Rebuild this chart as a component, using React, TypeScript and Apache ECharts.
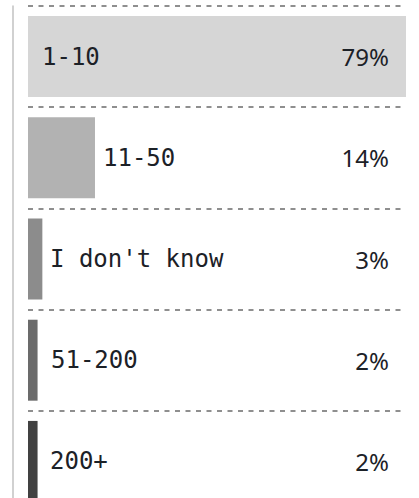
import React, { useEffect, useRef } from "react";
import * as echarts from "echarts";

const categories = ["1-10", "11-50", "I don't know", "51-200", "200+"];
const values = [79, 14, 3, 2, 2];
const barColors = ["#d6d6d6", "#b2b2b2", "#8c8c8c", "#6b6b6b", "#414141"];
// label placement per category: [position, distance]
const labelPlacement: [string, number][] = [
  ["insideLeft", 14],
  ["right", 8],
  ["insideLeft", 22],
  ["insideLeft", 23],
  ["insideLeft", 22],
];

export default function App() {
  const ref = useRef<HTMLDivElement>(null);
  useEffect(() => {
    if (!ref.current) return;
    const chart = echarts.init(ref.current, null, { renderer: "svg" });
    const maxVal = Math.max(...values);
    chart.setOption({
      animation: false,
      grid: { left: 28, right: 13, top: 6, height: 506 },
      xAxis: {
        type: "value",
        min: 0,
        max: maxVal,
        show: false,
      },
      yAxis: {
        type: "category",
        data: categories,
        inverse: true,
        offset: 15,
        axisLine: {
          show: true,
          onZero: false,
          lineStyle: { color: "#c2c2c2", width: 1.5 },
        },
        axisTick: { show: false },
        axisLabel: { show: false },
        splitLine: {
          show: true,
          lineStyle: { color: "#8f8f8f", type: [5, 5.5], width: 1.8 },
        },
      },
      series: [
        {
          type: "bar",
          silent: true,
          barCategoryGap: "20%",
          data: values.map((v, i) => ({
            value: v,
            itemStyle: { color: barColors[i] },
            label: {
              show: true,
              position: labelPlacement[i][0],
              distance: labelPlacement[i][1],
              formatter: categories[i],
              fontFamily: "DejaVu Sans Mono",
              fontSize: 24,
              color: "#1c2127",
            },
          })),
        },
        {
          type: "bar",
          silent: true,
          barGap: "-100%",
          barCategoryGap: "20%",
          itemStyle: { color: "rgba(0,0,0,0)" },
          data: values.map(() => maxVal),
          label: {
            show: true,
            position: "insideRight",
            distance: 17,
            formatter: (p: any) => values[p.dataIndex] + "%",
            fontFamily: "Noto Sans",
            fontSize: 24,
            color: "#1c2127",
          },
        },
      ],
    });
    return () => chart.dispose();
  }, []);
  return (
    <div
      style={{
        position: "fixed",
        top: 0,
        left: 0,
        width: 419,
        height: 498,
        overflow: "hidden",
        background: "#fff",
      }}
    >
      <div ref={ref} style={{ width: 419, height: 520 }} />
    </div>
  );
}
